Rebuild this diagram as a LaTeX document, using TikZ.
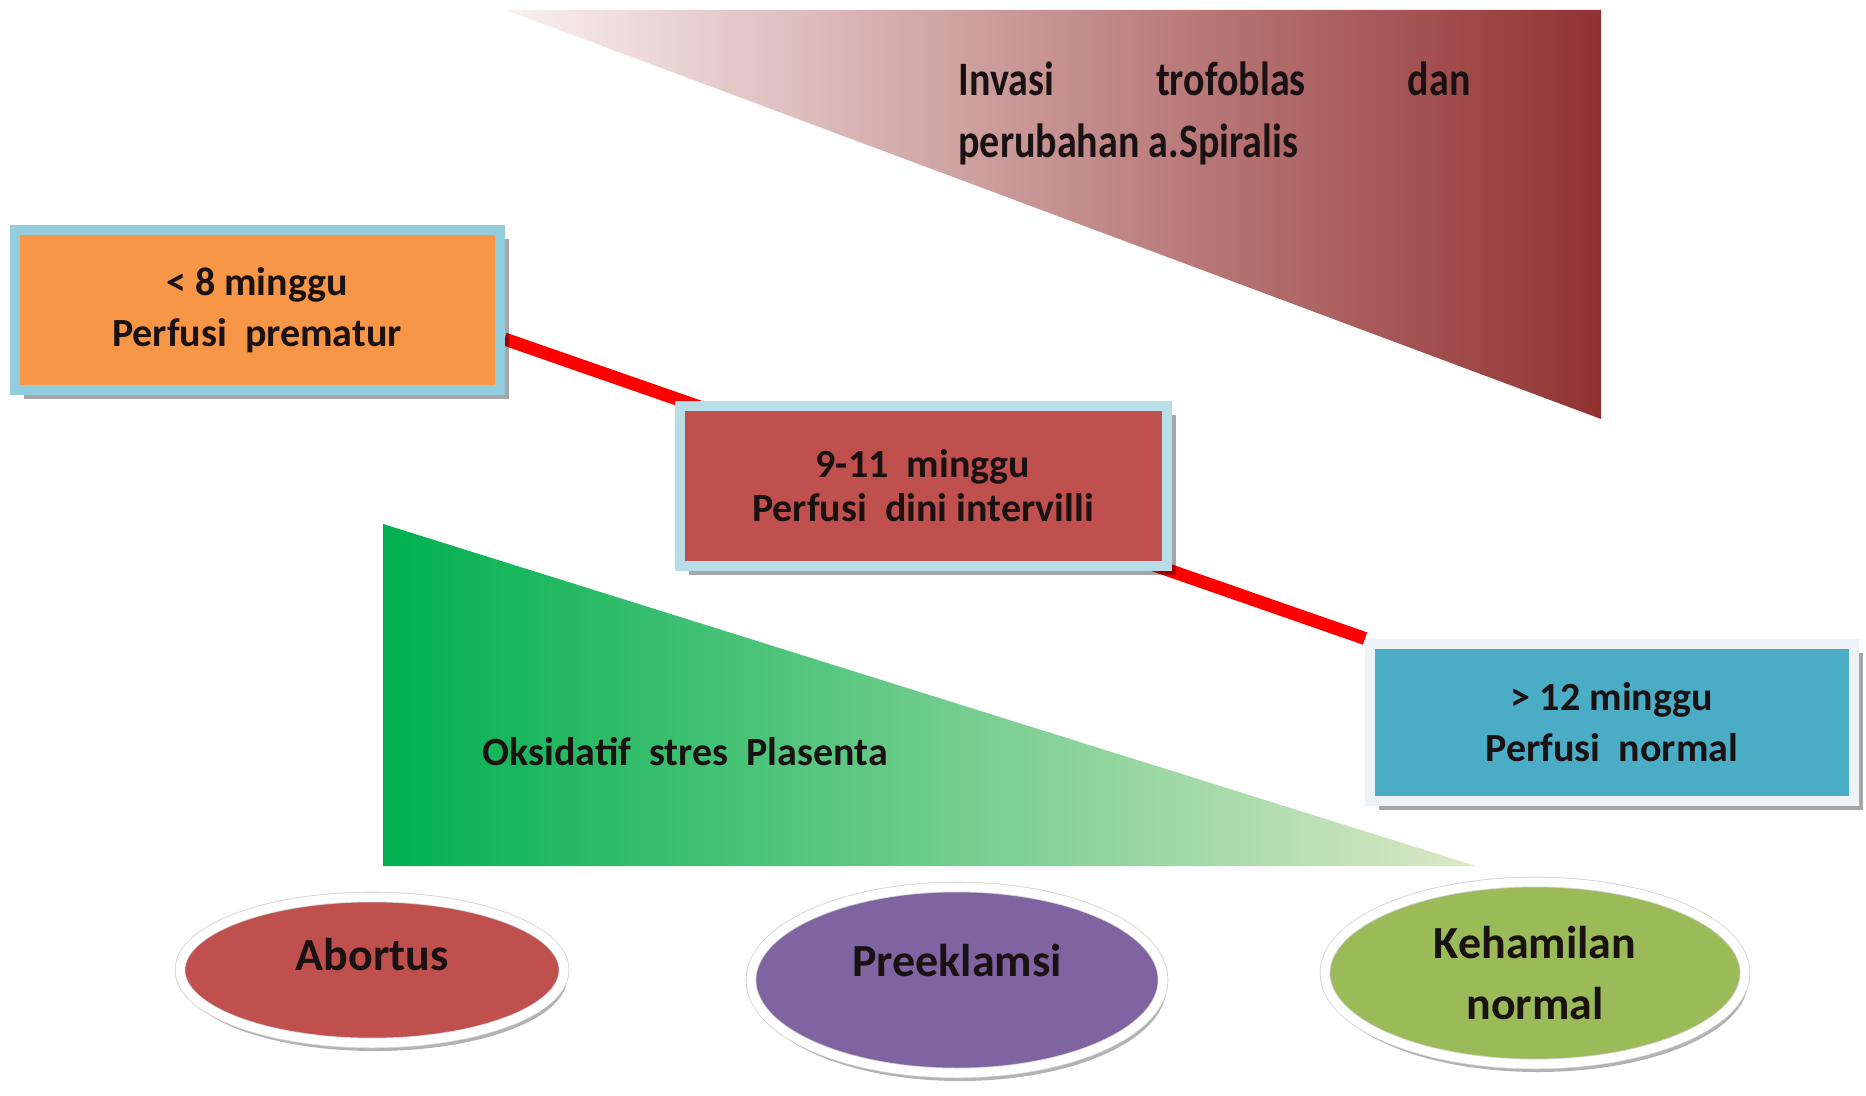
\documentclass[tikz,border=0pt]{standalone}
\usepackage{fontspec}
\setmainfont{Carlito}
\usetikzlibrary{shadows,shapes.geometric,backgrounds}
\definecolor{tlight}{HTML}{FAF0F0}
\definecolor{tdark}{HTML}{923232}
\definecolor{gdark}{HTML}{00B050}
\definecolor{glight}{HTML}{DCE8C6}
\definecolor{orangeF}{HTML}{F79646}
\definecolor{orangeB}{HTML}{93CDDD}
\definecolor{redF}{HTML}{C0504D}
\definecolor{redB}{HTML}{B7DEE8}
\definecolor{blueF}{HTML}{4BACC6}
\definecolor{blueB}{HTML}{EEF3F7}
\definecolor{purpleF}{HTML}{8064A2}
\definecolor{greenF}{HTML}{9BBB59}
\definecolor{ink}{HTML}{1A1212}
\tikzset{
  stagebox/.style={rectangle, line width=5pt, align=center, inner sep=0pt,
    text=ink, font=\fontsize{20}{25.5}\selectfont\bfseries,
    drop shadow={shadow xshift=4.5pt, shadow yshift=-4.5pt, fill=black, opacity=0.35}},
  outcome/.style={ellipse, draw=black!18, double=white, double distance=4.5pt, line width=0.4pt,
    inner sep=0pt, align=center,
    text=ink, font=\fontsize{23}{30.5}\selectfont\bfseries,
    drop shadow={shadow xshift=1.5pt, shadow yshift=-4pt, fill=black, opacity=0.3}},
  tritext/.style={inner sep=0pt, text=ink, font=\fontsize{20}{26}\selectfont\bfseries},
  redline/.style={draw=red, line width=6.5pt}
}
\begin{document}
\begin{tikzpicture}[x=0.5pt,y=-0.5pt]
\useasboundingbox (0,0) rectangle (1866,1096);
% gradient triangles
\shade[left color=tlight, right color=tdark] (506,10) -- (1601,10) -- (1601,419) -- cycle;
\shade[left color=gdark, right color=glight] (383,524) -- (383,866) -- (1476,866) -- cycle;
% triangle texts
\node[tritext, anchor=west] (inv) at (958,114) {\scalebox{1}[1.2]{\begin{tabular}{@{}l@{}}\hbox to 256pt{Invasi\hfill trofoblas\hfill dan}\\ perubahan a.Spiralis\end{tabular}}};
\node[tritext, anchor=west] (oks) at (482,752) {Oksidatif\ \ stres\ \ Plasenta};
% stage boxes
\node[stagebox, draw=orangeB, fill=orangeF, minimum width=242.5pt, minimum height=79.5pt] (o) at (257,310) {< 8 minggu\\ Perfusi\ \ prematur};
\node[stagebox, draw=redB, fill=redF, minimum width=243.5pt, minimum height=80pt, font=\fontsize{20}{22}\selectfont\bfseries] (r) at (923,486) {9-11\ \ minggu\\ Perfusi\ \ dini intervilli};
\node[stagebox, draw=blueB, fill=blueF, minimum width=242pt, minimum height=78.5pt] (bl) at (1612,722) {> 12 minggu\\ Perfusi\ \ normal};
% outcomes
\node[outcome, fill=redF, minimum width=192pt, minimum height=73pt, text height=15pt, text depth=14.2pt] (ab) at (372,970) {Abortus};
\node[outcome, fill=purpleF, minimum width=206pt, minimum height=93pt, text height=15pt, text depth=18.2pt] (pe) at (957,980) {Preeklamsi};
\node[outcome, fill=greenF, minimum width=210pt, minimum height=91pt] (ke) at (1535,973) {Kehamilan\\ normal};
% background and connector
\begin{scope}[on background layer]
\fill[white] (0,0) rectangle (1866,1096);
\draw[redline] ([yshift=-14.5pt]o.east) -- (bl.north west);
\end{scope}
\end{tikzpicture}
\end{document}
